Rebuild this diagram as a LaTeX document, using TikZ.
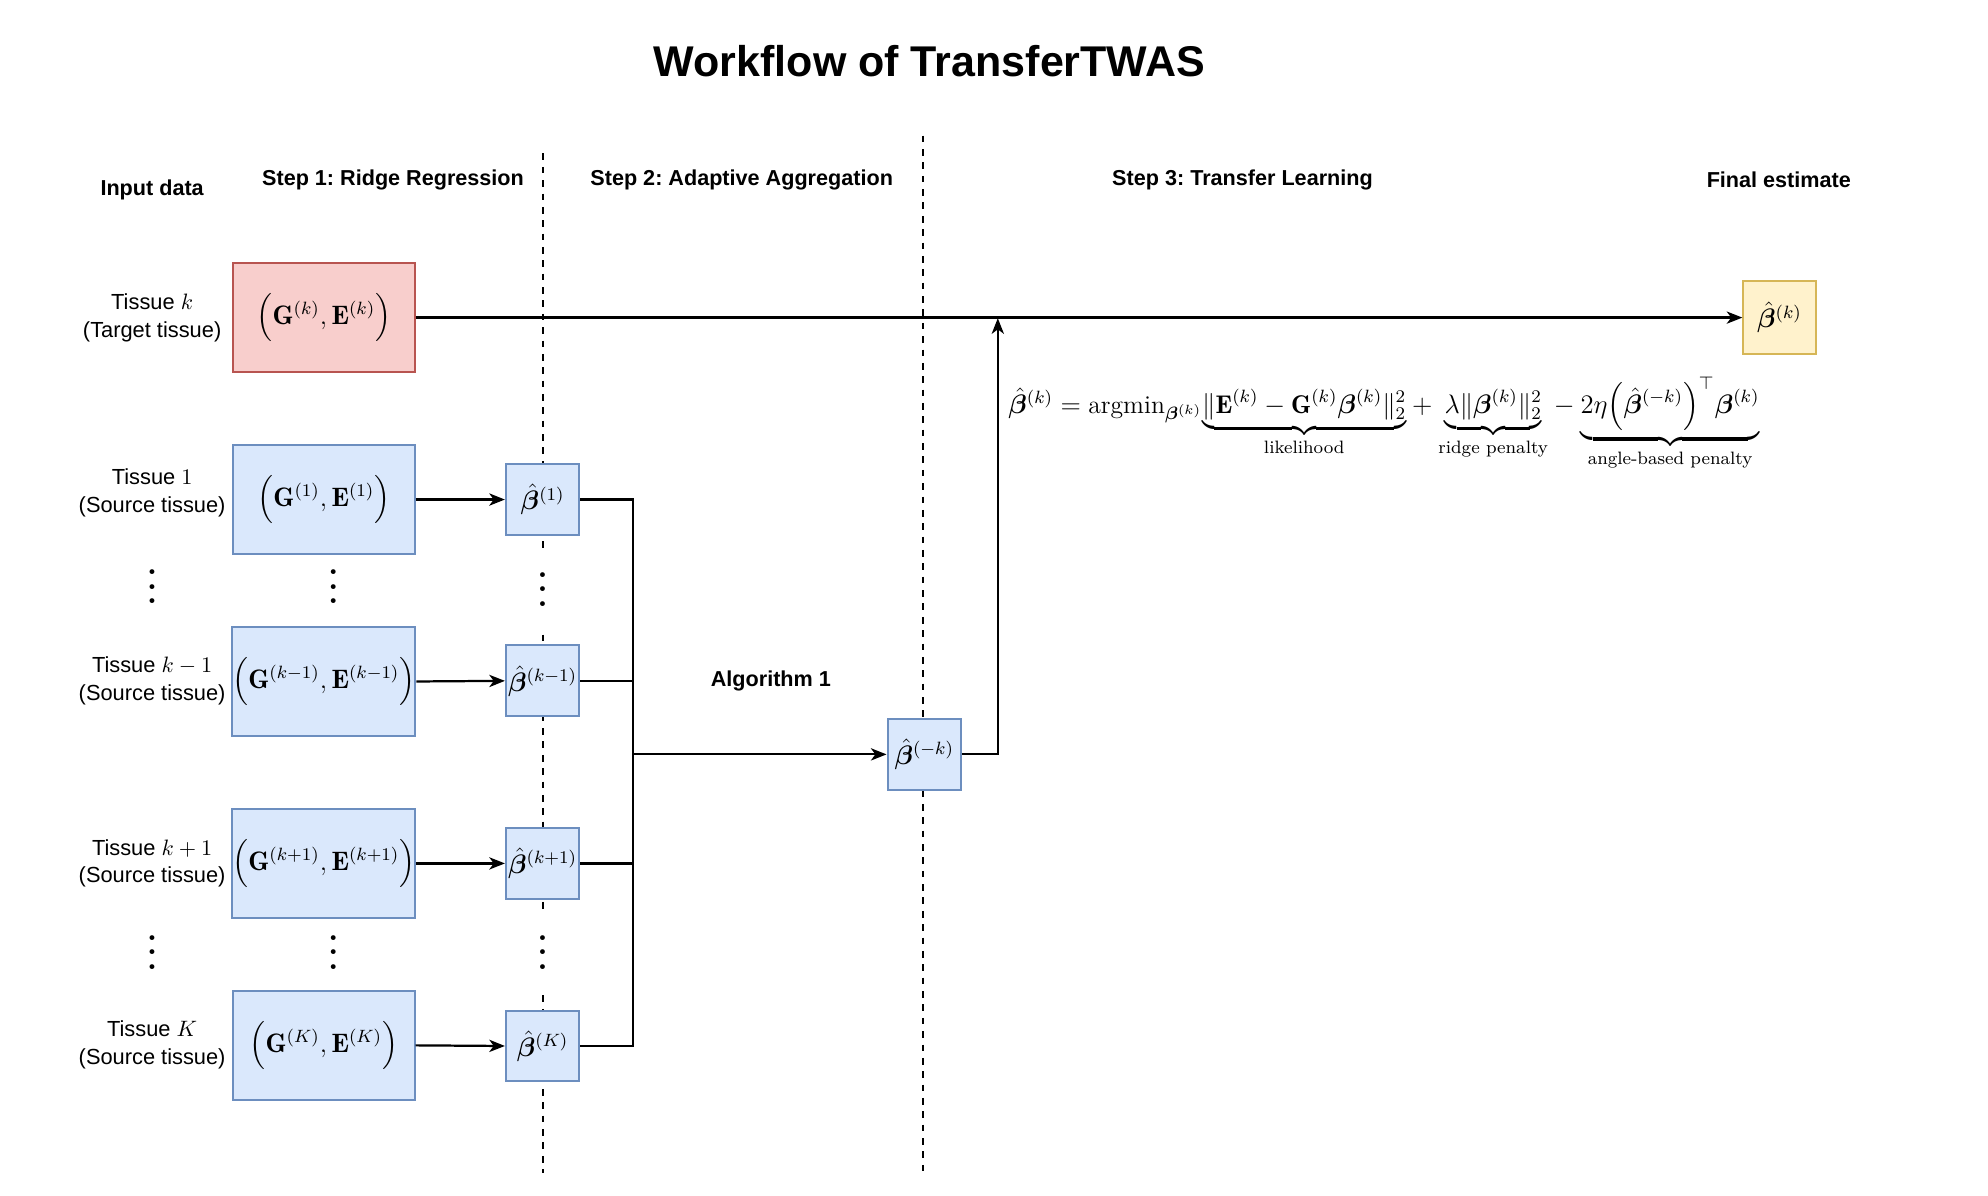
\documentclass[tikz,border=0pt]{standalone}
\usepackage{amsmath}
\usepackage{bm}
\usepackage{fontspec}
\newfontfamily\arialfont{Liberation Sans}
\usetikzlibrary{arrows.meta}
\frenchspacing
\definecolor{redfill}{HTML}{F8CECC}
\definecolor{reddraw}{HTML}{B85450}
\definecolor{bluefill}{HTML}{DAE8FC}
\definecolor{bluedraw}{HTML}{6C8EBF}
\definecolor{yellowfill}{HTML}{FFF2CC}
\definecolor{yellowdraw}{HTML}{D6B656}
\newcommand{\tallvdots}{\vbox{\baselineskip6.5pt\lineskiplimit0pt\hbox{\bfseries.}\hbox{\bfseries.}\hbox{\bfseries.}}}
\newcommand{\GE}[1]{$\Bigl(\mathbf{G}^{(#1)},\mathbf{E}^{(#1)}\Bigr)$}
\newcommand{\bhat}[1]{$\hat{\bm\beta}^{(#1)}$}

\begin{document}
\begin{tikzpicture}[x=0.02cm,y=-0.02cm,
  every node/.style={inner sep=0pt},
  tlabel/.style={font=\arialfont\fontsize{9.8}{12.5}\selectfont,align=center},
  head/.style={font=\arialfont\bfseries\fontsize{9.7}{12}\selectfont},
  databox/.style={draw=bluedraw,fill=bluefill,line width=0.9pt,minimum width=2.86cm,minimum height=1.72cm,font=\large},
  betabox/.style={draw=bluedraw,fill=bluefill,line width=0.9pt,minimum width=1.16cm,minimum height=1.12cm,font=\large},
  sep/.style={line width=0.9pt,dash pattern=on 3pt off 3pt},
  conn/.style={line width=1pt},
  arr/.style={conn,-{Stealth[length=7pt,width=5.5pt,inset=2pt]}},
  dotsnode/.style={font=\fontsize{15}{15}\selectfont},
  gapnode/.style={dotsnode,fill=white,minimum height=1.2cm,minimum width=0.3cm}]
\useasboundingbox (0,0) rectangle (1568,943);
\node[font=\arialfont\bfseries\fontsize{19.3}{23}\selectfont] (title) at (733,48) {Workflow of TransferTWAS};
\node[head] (hin) at (120,150) {Input data};
\node[head] (hs1) at (310,142) {Step 1: Ridge Regression};
\node[head] (hs2) at (585,142) {Step 2: Adaptive Aggregation};
\node[head] (hs3) at (980,142) {Step 3: Transfer Learning};
\node[head] (hfin) at (1403,142) {Final estimate};
\draw[sep] (428,121) -- (428,925);
\draw[sep] (728,107) -- (728,925);
\node[tlabel] (ltk) at (120,251) {Tissue $k$\\(Target tissue)};
\node[tlabel] (lt1) at (120,389) {Tissue $1$\\(Source tissue)};
\node[tlabel] (ltkm) at (120,537) {Tissue $k-1$\\(Source tissue)};
\node[tlabel] (ltkp) at (120,681) {Tissue $k+1$\\(Source tissue)};
\node[tlabel] (ltK) at (120,824) {Tissue $K$\\(Source tissue)};
\node[databox,draw=reddraw,fill=redfill] (tk) at (255.5,250.5) {\GE{k}};
\node[databox] (t1) at (255.5,394) {\GE{1}};
\node[databox] (tkm) at (255.5,537.5) {\GE{k-1}};
\node[databox] (tkp) at (255.5,681) {\GE{k+1}};
\node[databox] (tK) at (255.5,824.5) {\GE{K}};
\node[betabox] (b1) at (428,394) {\bhat{1}};
\node[betabox] (bkm) at (428,537) {\bhat{k-1}};
\node[betabox] (bkp) at (428,681) {\bhat{k+1}};
\node[betabox] (bK) at (428,825) {\bhat{K}};
\node[betabox] (bmk) at (729,595) {\bhat{-k}};
\node[betabox,draw=yellowdraw,fill=yellowfill,minimum width=1.14cm,minimum height=1.14cm] (fin) at (1403.5,250.5) {\bhat{k}};
\node[dotsnode] (d1) at (120,463) {\tallvdots};
\node[dotsnode] (d2) at (263,463) {\tallvdots};
\node[gapnode] (d3) at (428,465) {\tallvdots};
\node[dotsnode] (d4) at (120,751) {\tallvdots};
\node[dotsnode] (d5) at (263,751) {\tallvdots};
\node[gapnode] (d6) at (428,751) {\tallvdots};
\node[head] (alg) at (608,537) {Algorithm 1};
\node[anchor=base west,font=\fontsize{11.5}{14}\selectfont] (eq) at (795,326) {$\hat{\bm\beta}^{(k)} = \mathrm{argmin}_{\bm\beta^{(k)}}{\underbrace{\|\mathbf{E}^{(k)}-\mathbf{G}^{(k)}\bm\beta^{(k)}\|_2^2}_{\text{likelihood}}} + {\underbrace{\lambda\|\bm\beta^{(k)}\|_2^2}_{\text{ridge penalty}}} - {\underbrace{2\eta\Bigl(\hat{\bm\beta}^{(-k)}\Bigr)^{\top}\bm\beta^{(k)}}_{\text{angle-based penalty}}}$};
\coordinate (agg) at (499,595);
\coordinate (up) at (787,251);
\draw[arr] (tk.east) -- (fin.west);
\draw[arr] (t1.east) -- (b1.west);
\draw[arr] (tkm.east) -- (bkm.west);
\draw[arr] (tkp.east) -- (bkp.west);
\draw[arr] (tK.east) -- (bK.west);
\draw[conn] (b1.east) -| (agg);
\draw[conn] (bkm.east) -| (agg);
\draw[conn] (bkp.east) -| (agg);
\draw[conn] (bK.east) -| (agg);
\draw[arr] (agg) -- (bmk.west);
\draw[arr] (bmk.east) -| (up);
\end{tikzpicture}
\end{document}
